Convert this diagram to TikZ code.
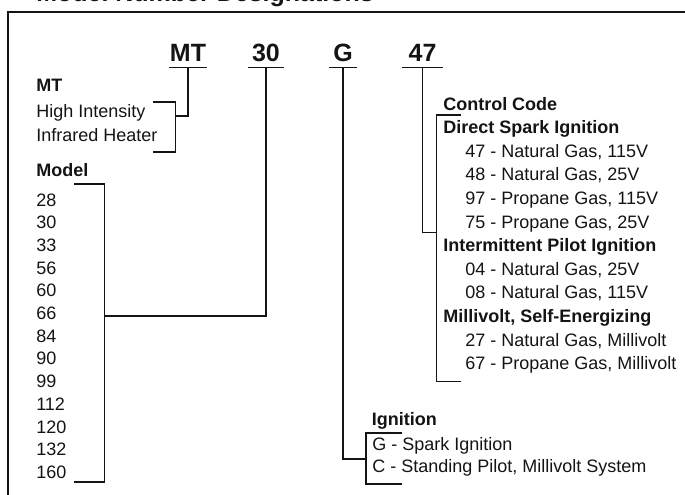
\documentclass[tikz,border=0pt]{standalone}
\usepackage{fontspec}
\setmainfont{Liberation Sans}
\usetikzlibrary{positioning}
\definecolor{inkblack}{RGB}{20,20,20}

\begin{document}
\begin{tikzpicture}[
    x=0.75pt, y=-0.75pt,
    codebox/.style={font=\fontsize{18.75}{20}\selectfont\bfseries, anchor=base,
        inner xsep=0pt, inner ysep=4.7pt, text=inkblack},
    headtext/.style={font=\fontsize{13.5}{16}\selectfont\bfseries, anchor=base west,
        inner sep=0pt, text=inkblack},
    itemtext/.style={font=\fontsize{13.5}{16}\selectfont, anchor=base west,
        inner sep=0pt, text=inkblack},
    link/.style={draw=inkblack, line width=0.8pt}
]
\useasboundingbox (0,0) rectangle (685,494);
\clip (0,0) rectangle (685,494);

% frame and (cut off) title
\node[codebox, anchor=base west] (title) at (36,1.5) {Model Number Designations};
\draw[link] (8,500) -- (8,12) -- (690,12);

% the model number
\node[codebox, minimum width=28.5pt] (cmt) at (188,61) {MT};
\node[codebox, minimum width=27pt] (c30) at (266,61) {30};
\node[codebox, minimum width=21pt] (cg) at (343,61) {G};
\node[codebox, minimum width=30pt] (c47) at (422.5,61) {47};
\foreach \n in {cmt,c30,cg,c47}
    \draw[link] (\n.south west) -- (\n.south east);

% MT
\node[headtext] (mthead) at (36,91.7) {MT};
\node[itemtext] (hi) at (36,117.5) {High Intensity};
\node[itemtext] (ir) at (36,141.7) {Infrared Heater};
\coordinate (mtjoin) at (175.7,116);
\draw[link] (153,102) -| (175.7,152) -- (153,152);
\draw[link] (cmt.south) |- (mtjoin);

% Model
\node[headtext] (modelhead) at (36,176) {Model};
\foreach \m [count=\i from 0] in {28,30,33,56,60,66,84,90,99,112,120,132,160}
    \node[itemtext] (m\m) at (36,206+22.7*\i) {\m};
\coordinate (modeljoin) at (104.3,316);
\draw[link] (74,184) -| (104.3,482) -- (74,482);
\draw[link] (c30.south) |- (modeljoin);

% Control code
\node[headtext] (cchead) at (443,110) {Control Code};
\node[headtext] (dsi) at (443,133.6) {Direct Spark Ignition};
\node[itemtext] (k47) at (465,157.2) {47 - Natural Gas, 115V};
\node[itemtext] (k48) at (465,180.8) {48 - Natural Gas, 25V};
\node[itemtext] (k97) at (465,204.4) {97 - Propane Gas, 115V};
\node[itemtext] (k75) at (465,228) {75 - Propane Gas, 25V};
\node[headtext] (ipi) at (443,251.6) {Intermittent Pilot Ignition};
\node[itemtext] (k04) at (465,275.2) {04 - Natural Gas, 25V};
\node[itemtext] (k08) at (465,298.8) {08 - Natural Gas, 115V};
\node[headtext] (mse) at (443,322.4) {Millivolt, Self-Energizing};
\node[itemtext] (k27) at (465,346) {27 - Natural Gas, Millivolt};
\node[itemtext] (k67) at (465,369.6) {67 - Propane Gas, Millivolt};
\coordinate (ccjoin) at (436.7,232.3);
\draw[link] (461,115) -| (436.7,381.7) -- (461,381.7);
\draw[link] (c47.south) |- (ccjoin);

% Ignition
\node[headtext] (ighead) at (371.7,425.5) {Ignition};
\node[itemtext] (igg) at (372,450.7) {G - Spark Ignition};
\node[itemtext] (igc) at (372,472.7) {C - Standing Pilot, Millivolt System};
\coordinate (igjoin) at (366,459);
\draw[link] (401.7,433) -| (366,484) -- (401.7,484);
\draw[link] (cg.south) |- (igjoin);
\end{tikzpicture}
\end{document}
